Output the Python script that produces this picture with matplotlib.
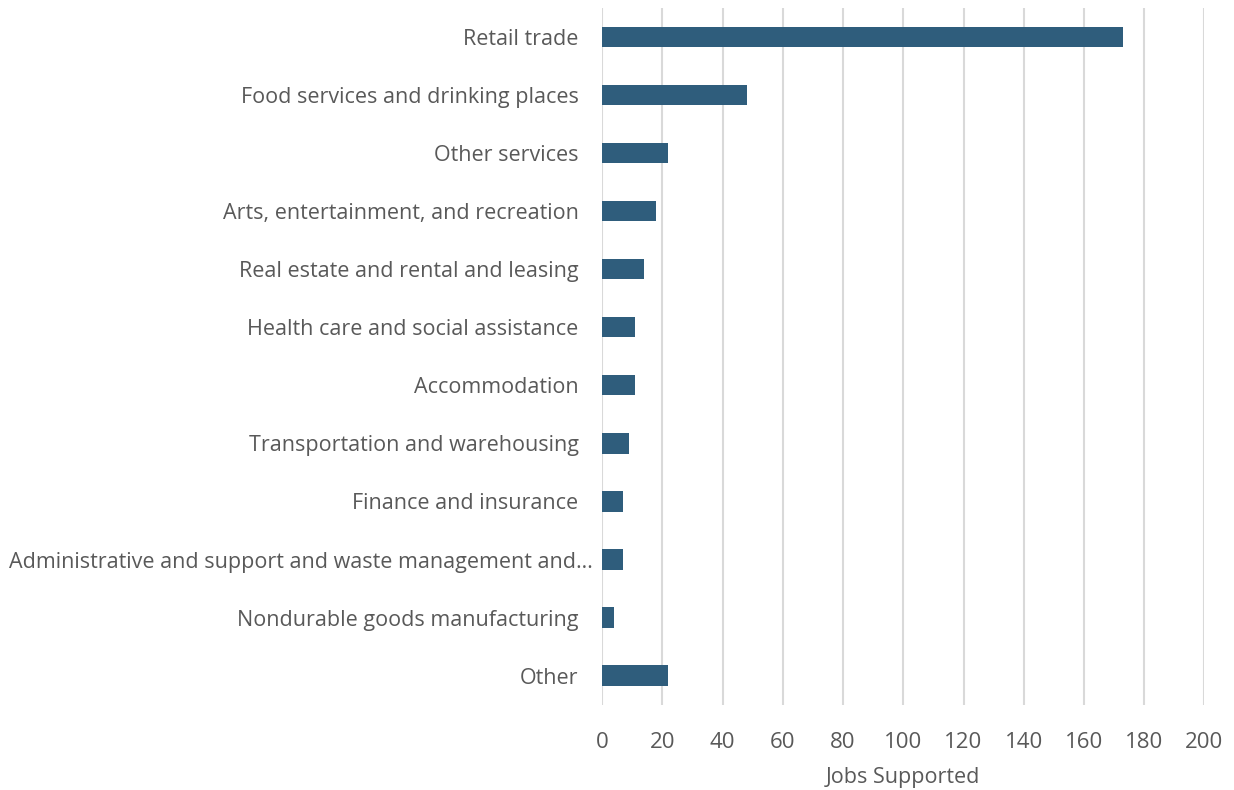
import numpy as np
import matplotlib
matplotlib.use('Agg')
import matplotlib.pyplot as plt
import matplotlib.transforms as mtransforms

# categories, top to bottom
industries = [
    'Retail trade',
    'Food services and drinking places',
    'Other services',
    'Arts, entertainment, and recreation',
    'Real estate and rental and leasing',
    'Health care and social assistance',
    'Accommodation',
    'Transportation and warehousing',
    'Finance and insurance',
    'Administrative and support and waste management and…',
    'Nondurable goods manufacturing',
    'Other',
]
jobs = [173, 48, 22, 18, 14, 11, 11, 9, 7, 7, 4, 22]
xticks = list(range(0, 201, 20))

plt.rcParams['font.family'] = ['Open Sans', 'DejaVu Sans']
gris = '#595959'

fig = plt.figure(figsize=(12.34, 7.9), dpi=100)
ax = fig.add_axes([0.488, 0.108, 0.488, 0.882])

y = np.arange(len(industries))
ax.barh(y, jobs, height=0.35, color='#2f5d7c', zorder=3)

ax.set_xlim(0, 200)
ax.set_ylim(len(industries) - 0.5, -0.5)
ax.set_xticks(xticks)
ax.set_yticks(y)
ax.set_yticklabels(industries, fontsize=15.5, color=gris)
ax.tick_params(axis='x', labelsize=16, labelcolor=gris, length=0, pad=20)
ax.tick_params(axis='y', length=0, pad=17)
ax.xaxis.grid(True, color='#d9d9d9', linewidth=1.5, zorder=0)
for s in ax.spines.values():
    s.set_visible(False)

# le libelle tronque deborde un peu plus vers la droite (comme dans Excel)
lab = ax.get_yticklabels()[9]
lab.set_transform(lab.get_transform() + mtransforms.ScaledTranslation(0.14, 0, fig.dpi_scale_trans))

ax.set_xlabel('Jobs Supported', fontsize=15.5, color=gris, labelpad=10)

fig.savefig('out.png', dpi=100)
